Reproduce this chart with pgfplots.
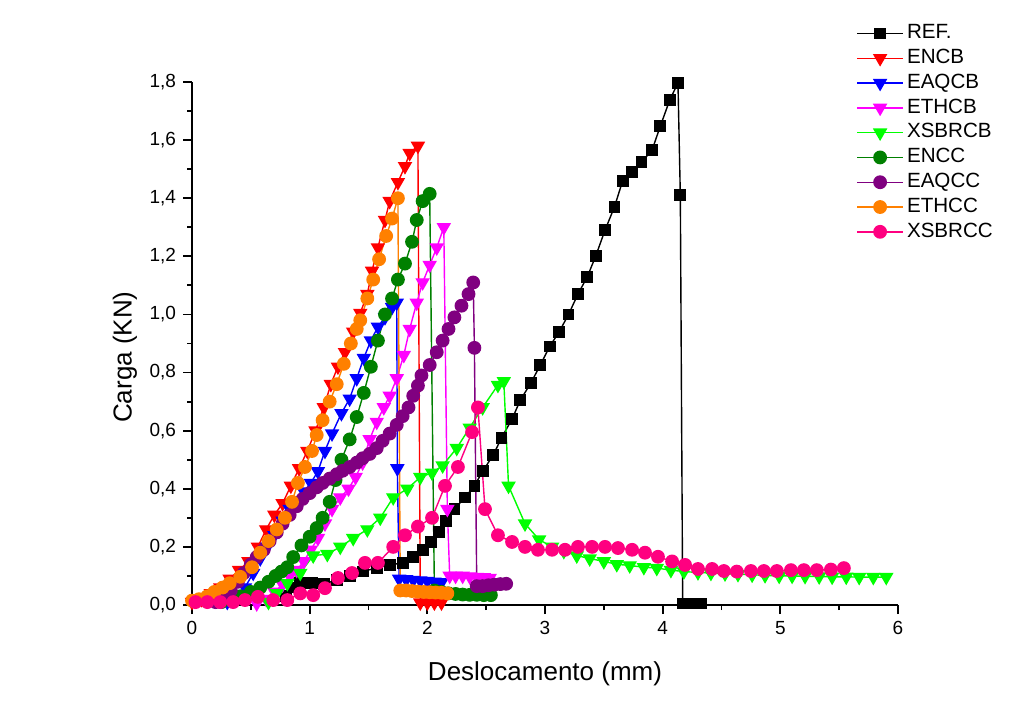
\documentclass[border=0pt]{standalone}
\usepackage{fontspec}
\setmainfont{Liberation Sans}
\usepackage{pgfplots}
\pgfplotsset{compat=1.18}
\definecolor{cref}{RGB}{0,0,0}
\definecolor{cencb}{RGB}{255,0,0}
\definecolor{ceaqcb}{RGB}{0,0,255}
\definecolor{cethcb}{RGB}{255,0,255}
\definecolor{cxsbrcb}{RGB}{0,255,0}
\definecolor{cencc}{RGB}{0,128,0}
\definecolor{ceaqcc}{RGB}{128,0,128}
\definecolor{cethcc}{RGB}{255,128,0}
\definecolor{cxsbrcc}{RGB}{255,0,128}
\pgfplotsset{
  sq/.style={#1, line width=0.7pt, mark=square*, mark size=2.6pt, mark options={fill=#1, draw=#1}},
  tri/.style={#1, line width=0.7pt, mark=triangle*, mark size=3.5pt, mark options={rotate=180, fill=#1, draw=#1}},
  circ/.style={#1, line width=0.7pt, mark=*, mark size=3.1pt, mark options={fill=#1, draw=#1}},
}
\begin{document}
\begin{tikzpicture}
\begin{axis}[
    name=ax,
    scale only axis,
    width=353pt, height=261.5pt,
    xmin=0, xmax=6, ymin=0, ymax=1.8,
    axis lines=left,
    axis line style={-, line width=0.9pt},
    xtick={0,1,2,3,4,5,6},
    ytick={0,0.2,0.4,0.6,0.8,1.0,1.2,1.4,1.6,1.8},
    minor x tick num=1, minor y tick num=1,
    tick align=outside,
    major tick length=4.5pt, minor tick length=2.5pt,
    every tick/.style={black, line width=0.9pt},
    yticklabel style={/pgf/number format/.cd, fixed, fixed zerofill, precision=1, use comma},
    /pgf/number format/assume math mode=true,
    ticklabel style={font=\fontsize{9.5}{11}\selectfont},
    xlabel={Deslocamento (mm)},
    ylabel={Carga (KN)},
    label style={font=\fontsize{13}{15}\selectfont},
    xlabel style={at={(axis description cs:0.5,-0.132)}, anchor=center},
    ylabel style={at={(axis description cs:-0.095,0.474)}, anchor=center},
    legend image code/.code={\draw[mark repeat=2,mark phase=2] plot coordinates {(0pt,0pt) (11.5pt,0pt) (23pt,0pt)};},
    legend style={at={(axis description cs:0.932,1.125)}, anchor=north west,
        draw=none, fill=none, font=\fontsize{10.3}{12}\selectfont, row sep=0pt,
        nodes={text height=7.2pt, text depth=2pt, inner sep=1.6pt}},
    legend cell align=left,
]
% REF.
\addplot[sq=cref] coordinates {
 (0.80,0.03) (0.86,0.06) (0.92,0.076) (1.02,0.075) (1.12,0.072) (1.23,0.086)
 (1.34,0.10) (1.45,0.115) (1.57,0.128) (1.68,0.138) (1.79,0.145) (1.88,0.165)
 (1.96,0.19) (2.03,0.217) (2.10,0.25) (2.16,0.29) (2.23,0.33) (2.32,0.37)
 (2.40,0.41) (2.47,0.46) (2.56,0.516) (2.63,0.575) (2.72,0.64) (2.79,0.705)
 (2.88,0.764) (2.96,0.826) (3.04,0.89) (3.12,0.94) (3.20,1.00) (3.28,1.07)
 (3.36,1.13) (3.43,1.20) (3.51,1.29) (3.59,1.37) (3.66,1.46) (3.74,1.49)
 (3.82,1.524) (3.91,1.566) (3.98,1.648) (4.06,1.738) (4.13,1.797) (4.15,1.41)
 (4.17,0.005) (4.25,0.005) (4.33,0.005)
};
\addlegendentry{REF.}
% ENCB
\addplot[tri=cencb] coordinates {
 (0.00,0.01) (0.08,0.02) (0.16,0.04) (0.24,0.06) (0.32,0.09) (0.40,0.12)
 (0.48,0.15) (0.56,0.20) (0.63,0.26) (0.70,0.31) (0.77,0.35) (0.84,0.41)
 (0.91,0.47) (0.98,0.53) (1.05,0.60) (1.12,0.68) (1.18,0.76) (1.24,0.82)
 (1.30,0.87) (1.37,0.94) (1.43,1.005) (1.49,1.07) (1.53,1.15) (1.58,1.23)
 (1.64,1.325) (1.68,1.39) (1.75,1.455) (1.81,1.51) (1.85,1.555) (1.92,1.58)
 (1.94,0.008) (2.00,0.008) (2.06,0.008) (2.12,0.008)
};
\addlegendentry{ENCB}
% EAQCB
\addplot[tri=ceaqcb] coordinates {
 (0.30,0.01) (0.38,0.03) (0.45,0.06) (0.52,0.11) (0.58,0.16) (0.64,0.20)
 (0.70,0.24) (0.77,0.29) (0.83,0.33) (0.89,0.355) (0.95,0.39) (1.01,0.42)
 (1.07,0.46) (1.13,0.53) (1.19,0.59) (1.27,0.66) (1.34,0.71) (1.40,0.78)
 (1.46,0.85) (1.52,0.91) (1.58,0.957) (1.64,0.99) (1.70,1.025) (1.74,1.04)
 (1.745,0.47) (1.76,0.09) (1.82,0.088) (1.88,0.086) (1.94,0.084) (2.00,0.082)
 (2.06,0.08) (2.12,0.078)
};
\addlegendentry{EAQCB}
% ETHCB
\addplot[tri=cethcb] coordinates {
 (0.55,0.005) (0.63,0.02) (0.70,0.045) (0.77,0.07) (0.83,0.10) (0.89,0.12)
 (0.95,0.15) (1.01,0.19) (1.07,0.23) (1.13,0.28) (1.19,0.33) (1.26,0.37)
 (1.33,0.40) (1.39,0.44) (1.45,0.49) (1.51,0.57) (1.57,0.63) (1.63,0.68)
 (1.68,0.72) (1.74,0.78) (1.80,0.86) (1.85,0.95) (1.91,1.04) (1.96,1.11)
 (2.02,1.17) (2.08,1.23) (2.14,1.30) (2.17,0.33) (2.19,0.10) (2.24,0.10)
 (2.30,0.10) (2.36,0.098) (2.42,0.096) (2.48,0.095) (2.53,0.093)
};
\addlegendentry{ETHCB}
% XSBRCB
\addplot[tri=cxsbrcb] coordinates {
 (0.65,0.01) (0.72,0.04) (0.81,0.075) (0.92,0.11) (1.03,0.17) (1.15,0.175)
 (1.26,0.20) (1.37,0.23) (1.49,0.26) (1.60,0.30) (1.71,0.37) (1.83,0.40)
 (1.94,0.44) (2.04,0.455) (2.13,0.48) (2.25,0.54) (2.36,0.61) (2.47,0.68)
 (2.60,0.757) (2.65,0.77) (2.69,0.41) (2.83,0.28) (2.95,0.225) (3.06,0.20)
 (3.16,0.185) (3.27,0.17) (3.38,0.16) (3.50,0.15) (3.61,0.14) (3.72,0.136)
 (3.84,0.13) (3.95,0.127) (4.07,0.12) (4.18,0.115) (4.30,0.112) (4.41,0.11)
 (4.53,0.108) (4.64,0.106) (4.76,0.104) (4.87,0.102) (4.99,0.10) (5.10,0.10)
 (5.21,0.099) (5.33,0.098) (5.44,0.097) (5.56,0.097) (5.67,0.096) (5.79,0.096)
 (5.90,0.096)
};
\addlegendentry{XSBRCB}
% ENCC
\addplot[circ=cencc] coordinates {
 (0.25,0.01) (0.33,0.02) (0.41,0.03) (0.50,0.045) (0.58,0.06) (0.65,0.08)
 (0.71,0.10) (0.76,0.115) (0.81,0.13) (0.86,0.165) (0.93,0.205) (1.00,0.235)
 (1.06,0.265) (1.11,0.30) (1.17,0.355) (1.22,0.43) (1.27,0.50) (1.34,0.57)
 (1.40,0.647) (1.46,0.73) (1.52,0.82) (1.58,0.91) (1.64,1.00) (1.70,1.055)
 (1.75,1.12) (1.81,1.175) (1.87,1.25) (1.91,1.325) (1.96,1.39) (2.02,1.415)
 (2.06,0.05) (2.12,0.045) (2.18,0.04) (2.24,0.038) (2.30,0.036) (2.36,0.035)
 (2.42,0.035) (2.48,0.034) (2.54,0.034)
};
\addlegendentry{ENCC}
% EAQCC
\addplot[circ=ceaqcc] coordinates {
 (0.20,0.01) (0.27,0.03) (0.33,0.05) (0.39,0.08) (0.44,0.11) (0.50,0.14)
 (0.55,0.165) (0.61,0.19) (0.66,0.22) (0.72,0.25) (0.77,0.28) (0.83,0.31)
 (0.89,0.34) (0.94,0.365) (1.00,0.385) (1.06,0.405) (1.11,0.42) (1.17,0.435)
 (1.23,0.45) (1.28,0.462) (1.34,0.475) (1.40,0.49) (1.45,0.505) (1.51,0.52)
 (1.57,0.54) (1.62,0.565) (1.68,0.59) (1.74,0.62) (1.79,0.65) (1.84,0.68)
 (1.88,0.72) (1.92,0.755) (1.95,0.79) (2.02,0.826) (2.08,0.87) (2.13,0.91)
 (2.18,0.95) (2.23,0.99) (2.29,1.03) (2.35,1.07) (2.39,1.11) (2.40,0.885)
 (2.42,0.065) (2.47,0.065) (2.52,0.068) (2.57,0.07) (2.62,0.072) (2.67,0.073)
};
\addlegendentry{EAQCC}
% ETHCC
\addplot[circ=cethcc] coordinates {
 (0.00,0.015) (0.06,0.02) (0.13,0.03) (0.19,0.045) (0.26,0.06) (0.32,0.075)
 (0.41,0.097) (0.51,0.13) (0.58,0.18) (0.65,0.22) (0.72,0.26) (0.79,0.30)
 (0.85,0.355) (0.90,0.42) (0.96,0.475) (1.02,0.53) (1.06,0.585) (1.11,0.636)
 (1.17,0.70) (1.23,0.76) (1.29,0.83) (1.35,0.90) (1.40,0.95) (1.43,0.98)
 (1.49,1.055) (1.54,1.12) (1.59,1.19) (1.65,1.27) (1.70,1.33) (1.75,1.40)
 (1.77,0.05) (1.82,0.05) (1.87,0.048) (1.92,0.046) (1.97,0.045) (2.02,0.044)
 (2.07,0.043) (2.12,0.042) (2.17,0.04)
};
\addlegendentry{ETHCC}
% XSBRCC
\addplot[circ=cxsbrcc] coordinates {
 (0.03,0.01) (0.13,0.01) (0.24,0.01) (0.35,0.01) (0.45,0.017) (0.56,0.028)
 (0.69,0.017) (0.81,0.017) (0.92,0.04) (1.03,0.034) (1.13,0.058) (1.24,0.093)
 (1.36,0.11) (1.47,0.145) (1.58,0.145) (1.71,0.20) (1.81,0.24) (1.92,0.27)
 (2.04,0.30) (2.15,0.41) (2.26,0.475) (2.38,0.595) (2.43,0.68) (2.49,0.33)
 (2.60,0.24) (2.72,0.217) (2.83,0.20) (2.94,0.19) (3.06,0.19) (3.17,0.19)
 (3.28,0.20) (3.40,0.20) (3.51,0.20) (3.62,0.196) (3.74,0.19) (3.85,0.18)
 (3.96,0.166) (4.08,0.15) (4.19,0.138) (4.30,0.124) (4.42,0.124) (4.52,0.117)
 (4.63,0.115) (4.75,0.117) (4.86,0.117) (4.97,0.117) (5.09,0.12) (5.20,0.12)
 (5.31,0.12) (5.43,0.122) (5.54,0.127)
};
\addlegendentry{XSBRCC}
\end{axis}
\pgfresetboundingbox
\path ([xshift=-96pt,yshift=-58.5pt]ax.south west) rectangle ([xshift=422pt,yshift=302.5pt]ax.south west);
\end{tikzpicture}
\end{document}
